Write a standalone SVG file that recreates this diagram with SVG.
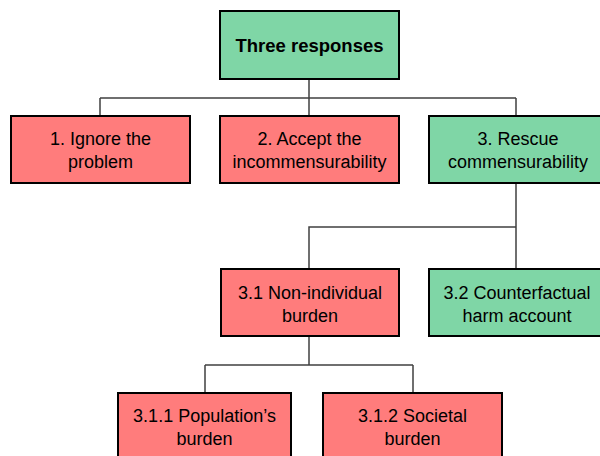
<svg xmlns="http://www.w3.org/2000/svg" width="600" height="456" viewBox="0 0 600 456">
<style>
.box{stroke:#000;stroke-width:2}
.g{fill:#7FD6A6}
.r{fill:#FF7C7C}
text{font-family:"Liberation Sans",Arial,sans-serif;font-size:18px;fill:#000;text-anchor:middle}
.b{font-weight:bold;font-size:18.5px}
.conn{fill:none;stroke:#404040;stroke-width:1.5}
</style>
<rect width="600" height="456" fill="#fff"/>
<g id="connectors" class="conn">
<path d="M309 79V98M100 98H516M100 98V116M309 98V116M516 98V116"/>
<path d="M516 183V227H309V269M516 227V269"/>
<path d="M309 336V365M205 365H413M205 365V393M413 365V393"/>
</g>
<g id="n0"><rect class="box g" x="220" y="11" width="179" height="68"/><text class="b" x="309.5" y="52">Three responses</text></g>
<g id="n1"><rect class="box r" x="11" y="116" width="179" height="67"/><text x="100.5" y="145">1. Ignore the</text><text x="100.5" y="168">problem</text></g>
<g id="n2"><rect class="box r" x="220" y="116" width="179" height="67"/><text x="309.5" y="145">2. Accept the</text><text x="309.5" y="168">incommensurability</text></g>
<g id="n3"><rect class="box g" x="429" y="116" width="179" height="67"/><text x="518" y="145">3. Rescue</text><text x="518" y="168">commensurability</text></g>
<g id="n31"><rect class="box r" x="221" y="269" width="178" height="67"/><text x="310" y="299">3.1 Non-individual</text><text x="310" y="322">burden</text></g>
<g id="n32"><rect class="box g" x="429" y="269" width="179" height="67"/><text x="517" y="299">3.2 Counterfactual</text><text x="517" y="322">harm account</text></g>
<g id="n311"><rect class="box r" x="118" y="393" width="173" height="67"/><text x="204.5" y="422">3.1.1 Population’s</text><text x="204.5" y="445">burden</text></g>
<g id="n312"><rect class="box r" x="323" y="393" width="179" height="67"/><text x="412.5" y="422">3.1.2 Societal</text><text x="412.5" y="445">burden</text></g>
</svg>
